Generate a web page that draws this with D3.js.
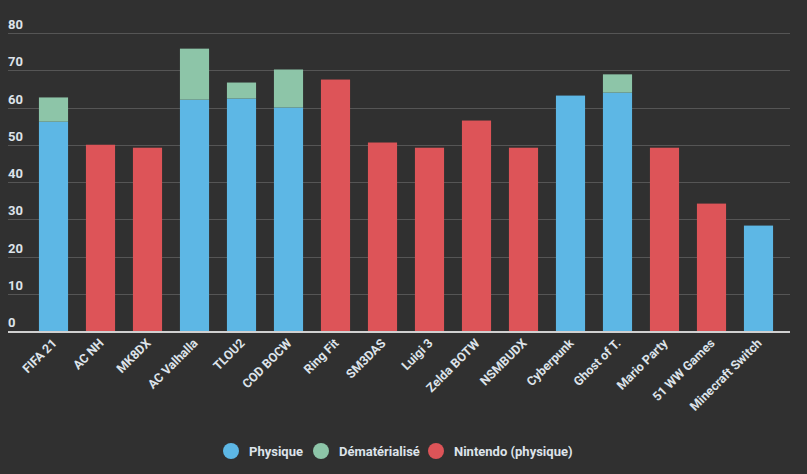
<!DOCTYPE html>
<html><head><meta charset="utf-8">
<script src="https://cdn.jsdelivr.net/npm/d3@7"></script>
<style>
html,body{margin:0;padding:0;background:#303030;}
svg{display:block;}
text{font-family:Roboto,"Noto Sans",sans-serif;font-weight:bold;}
</style></head><body>
<svg id="c" width="807" height="474"></svg>
<script>
const categories = ["FIFA 21","AC NH","MK8DX","AC Valhalla","TLOU2","COD BOCW","Ring Fit","SM3DAS","Luigi 3","Zelda BOTW","NSMBUDX","Cyberpunk","Ghost of T.","Mario Party","51 WW Games","Minecraft Switch"];
const physique     = [56.2, 0, 0, 62.1, 62.4, 60.0, 0, 0, 0, 0, 0, 63.2, 64.0, 0, 0, 28.3];
const dematerialise= [6.5, 0, 0, 13.7, 4.3, 10.2, 0, 0, 0, 0, 0, 0, 4.9, 0, 0, 0];
const nintendo     = [0, 50.0, 49.2, 0, 0, 0, 67.5, 50.6, 49.2, 56.5, 49.2, 0, 0, 49.2, 34.2, 0];
const yTicks = [0,10,20,30,40,50,60,70,80];
const seriesNames = ["Physique","Dématérialisé","Nintendo (physique)"];
const colors = ["#5DB7E5","#8DC5A8","#DD5458"];

const svg = d3.select("#c");
const x = d3.scaleBand().domain(categories).range([30,782]).paddingInner(0.38).paddingOuter(0.19);
const y = d3.scaleLinear().domain([0,80]).range([331,33]);

// gridlines
svg.append("g").selectAll("line").data(yTicks.filter(d=>d>0)).join("line")
  .attr("x1",8).attr("x2",790).attr("y1",d=>Math.round(y(d))+0.5).attr("y2",d=>Math.round(y(d))+0.5)
  .attr("stroke","#555555").attr("stroke-width",1);
// y labels
svg.append("g").selectAll("text").data(yTicks).join("text")
  .attr("x",8).attr("y",d=>y(d)-4).attr("fill","#dde3ea").attr("font-size",13)
  .text(d=>d);

const rows = categories.map((c,i)=>({c, p:physique[i], d:dematerialise[i], n:nintendo[i]}));
const stack = d3.stack().keys(["p","d","n"])(rows);
svg.append("g").selectAll("g").data(stack).join("g").attr("fill",(s,i)=>colors[i])
  .selectAll("rect").data(s=>s.filter(v=>v[1]-v[0]>0)).join("rect")
  .attr("x",v=>x(v.data.c)).attr("width",x.bandwidth())
  .attr("y",v=>y(v[1])).attr("height",v=>y(v[0])-y(v[1]));

// axis line
svg.append("line").attr("x1",8).attr("x2",790).attr("y1",332).attr("y2",332)
  .attr("stroke","#d0d0d0").attr("stroke-width",2);

// x labels
svg.append("g").selectAll("text").data(categories).join("text")
  .attr("transform",d=>`translate(${x(d)+x.bandwidth()/2+4},${344}) rotate(-45)`)
  .attr("text-anchor","end").attr("fill","#dde3ea").attr("font-size",12.5)
  .text(d=>d);

// legend
const legendX = [231,321,436];
const lg = svg.append("g").selectAll("g").data(seriesNames).join("g")
  .attr("transform",(d,i)=>`translate(${legendX[i]},451)`);
lg.append("circle").attr("r",8).attr("fill",(d,i)=>colors[i]);
lg.append("text").attr("x",18).attr("y",4.5).attr("fill","#dde3ea").attr("font-size",13).text(d=>d);
</script></body></html>
